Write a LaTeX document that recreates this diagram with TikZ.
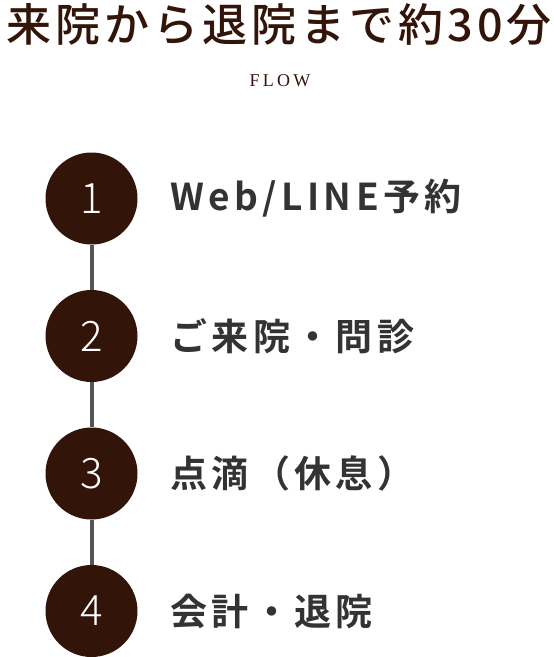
\documentclass[tikz,border=0pt]{standalone}
\usepackage{fontspec}
\usepackage{tikz}
\setmainfont{Noto Sans CJK JP}
\newfontfamily\titlefont[LetterSpace=9]{Noto Sans CJK JP Medium}
\newfontfamily\labelfont[LetterSpace=12]{Noto Sans CJK JP Bold}
\newfontfamily\numfont{Noto Sans CJK JP Light}
\newfontfamily\flowfont[LetterSpace=18]{Liberation Serif}
\definecolor{flowbrown}{HTML}{331409}
\definecolor{labelgray}{HTML}{333333}
\definecolor{linegray}{HTML}{555555}
\pgfdeclarelayer{edgelayer}
\pgfdeclarelayer{nodelayer}
\pgfsetlayers{edgelayer,nodelayer,main}
\tikzstyle{stepline}=[draw=linegray, line width=4pt]
\tikzstyle{stepdot}=[circle, fill=flowbrown, text=white, minimum size=92pt, inner sep=0pt, font=\numfont\fontsize{42}{42}\selectfont]
\tikzstyle{steplabel}=[anchor=west, inner sep=0pt, text=labelgray, font=\labelfont\fontsize{37}{37}\selectfont]

\begin{document}
\begin{tikzpicture}[x=1pt, y=-1pt]
					\useasboundingbox (0, 0) rectangle (554, 657);
					\node [text=flowbrown, inner sep=0pt, font=\titlefont\fontsize{45}{45}\selectfont] (title) at (279, 25) {来院から退院まで約30分};
					\node [text=flowbrown, inner sep=0pt, font=\flowfont\fontsize{18}{18}\selectfont] (flow) at (280, 81) {FLOW};
					\begin{pgfonlayer}{nodelayer}
						\node [style=stepdot] (1) at (91.5, 198.5) {1};
						\node [style=stepdot] (2) at (91.5, 336) {2};
						\node [style=stepdot] (3) at (91.5, 473.5) {3};
						\node [style=stepdot] (4) at (91.5, 611) {4};
						\node [style=steplabel] (l1) at (170, 198.5) {Web/LINE予約};
						\node [style=steplabel] (l2) at (170, 336) {ご来院・問診};
						\node [style=steplabel] (l3) at (170, 473.5) {点滴（休息）};
						\node [style=steplabel] (l4) at (170, 611) {会計・退院};
					\end{pgfonlayer}
					\begin{pgfonlayer}{edgelayer}
						\draw [style=stepline] (1) to (2);
						\draw [style=stepline] (2) to (3);
						\draw [style=stepline] (3) to (4);
					\end{pgfonlayer}
				\end{tikzpicture}
\end{document}
